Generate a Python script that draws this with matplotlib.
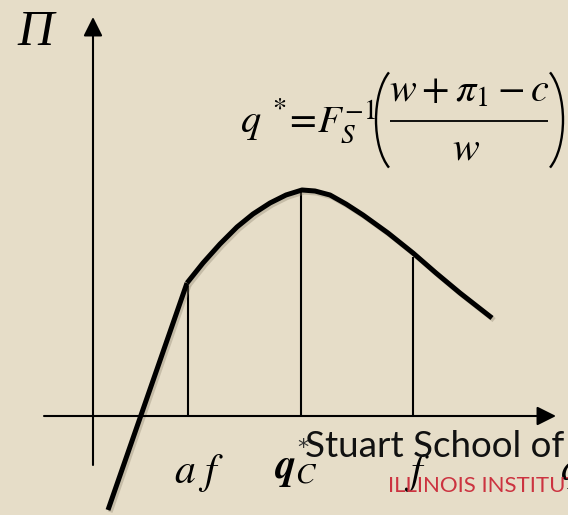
import numpy as np
import matplotlib.pyplot as plt
from matplotlib import patheffects as pe
from matplotlib.patches import Arc

plt.rcParams['mathtext.fontset'] = 'stix'

# profit curve (q, Pi), origin at axis crossing
ramp_q = [0.15, 0.94]
ramp_pi = [-0.94, 1.33]
curve_q = [0.94, 1.10, 1.27, 1.44, 1.60, 1.77, 1.93, 2.09, 2.22, 2.37, 2.53, 2.70, 2.95, 3.20, 3.43, 3.67, 3.99]
curve_pi = [1.33, 1.53, 1.72, 1.89, 2.02, 2.13, 2.21, 2.26, 2.25, 2.21, 2.12, 2.01, 1.83, 1.63, 1.43, 1.23, 0.98]

# vertical guide lines: position and top
guide_q = [0.95, 2.08, 3.20]
guide_top = [1.30, 2.26, 1.59]
guide_labels = [r'$a\ f$', r'$\mathbfit{q}_C$', r'$f$']

bg = '#E6DDC8'
fig = plt.figure(figsize=(5.68, 5.15), dpi=100, facecolor=bg)
ax = fig.add_axes([0, 0, 1, 1])
ax.set_facecolor(bg)
ax.set_xlim(-0.93, 4.75)
ax.set_ylim(-0.99, 4.16)
ax.axis('off')

# axes with arrows
arrow = dict(arrowstyle='-|>,head_length=0.58,head_width=0.29', mutation_scale=20,
             color='black', lw=1.5, shrinkA=0, shrinkB=0)
ax.annotate('', xy=(4.63, 0), xytext=(-0.49, 0), arrowprops=arrow)
ax.annotate('', xy=(0, 3.99), xytext=(0, -0.49), arrowprops=arrow)

# guides
ax.vlines(guide_q, 0, guide_top, color='black', lw=1.5)

shadow = [pe.SimpleLineShadow(offset=(1.5, -1.5), shadow_color='#8a7f6a', alpha=0.35), pe.Normal()]
ax.plot(ramp_q, ramp_pi, color='black', lw=3.6, solid_capstyle='butt', path_effects=shadow)
ax.plot(curve_q, curve_pi, color='black', lw=3.6, solid_joinstyle='round',
        solid_capstyle='butt', path_effects=shadow)

# axis name
ax.text(-0.76, 3.71, 'Π', fontsize=36, family='Liberation Serif', style='italic',
        ha='left', va='baseline')

# formula q* = F_S^-1((w + pi1 - c)/w), set piece by piece
ax.text(1.47, 2.84, r'$q^{\;*}$', fontsize=29, ha='left', va='baseline')
ax.text(1.91, 2.84, r'$=\!F_S^{-1}$', fontsize=28, ha='left', va='baseline')
ax.text(3.76, 3.14, r'$w+\pi_1-c$', fontsize=29, ha='center', va='baseline')
ax.plot([2.97, 4.55], [2.95, 2.95], color='black', lw=1.3, solid_capstyle='butt')
ax.text(3.73, 2.56, r'$w$', fontsize=29, ha='center', va='baseline')
# big parentheses
ax.add_patch(Arc((3.09, 2.96), 0.52, 1.10, theta1=105.3, theta2=254.7, color='black', lw=1.7))
ax.add_patch(Arc((4.44, 2.96), 0.52, 1.10, theta1=-74.7, theta2=74.7, color='black', lw=1.7))

# guide labels
ax.text(guide_q[0] + 0.11, -0.67, guide_labels[0], fontsize=30, ha='center', va='baseline')
ax.text(guide_q[1] - 0.05, -0.62, guide_labels[1], fontsize=30, ha='center', va='baseline')
ax.text(2.10, -0.32, '*', fontsize=16, family='DejaVu Sans', color='#333333',
        ha='center', va='center')
ax.text(guide_q[2] + 0.04, -0.67, guide_labels[2], fontsize=30, ha='center', va='baseline')
ax.text(4.67, -0.64, r'$q$', fontsize=30, ha='left', va='baseline')

# school logo overlay
ax.text(2.12, -0.41, 'Stuart School of', fontsize=26.5, family='Lato', color='#111111',
        ha='left', va='baseline')
ax.text(2.95, -0.76, 'ILLINOIS INSTITUTE', fontsize=16, family='Lato', color='#CC3340',
        ha='left', va='baseline')

fig.savefig('out.png', dpi=100, facecolor=bg)
